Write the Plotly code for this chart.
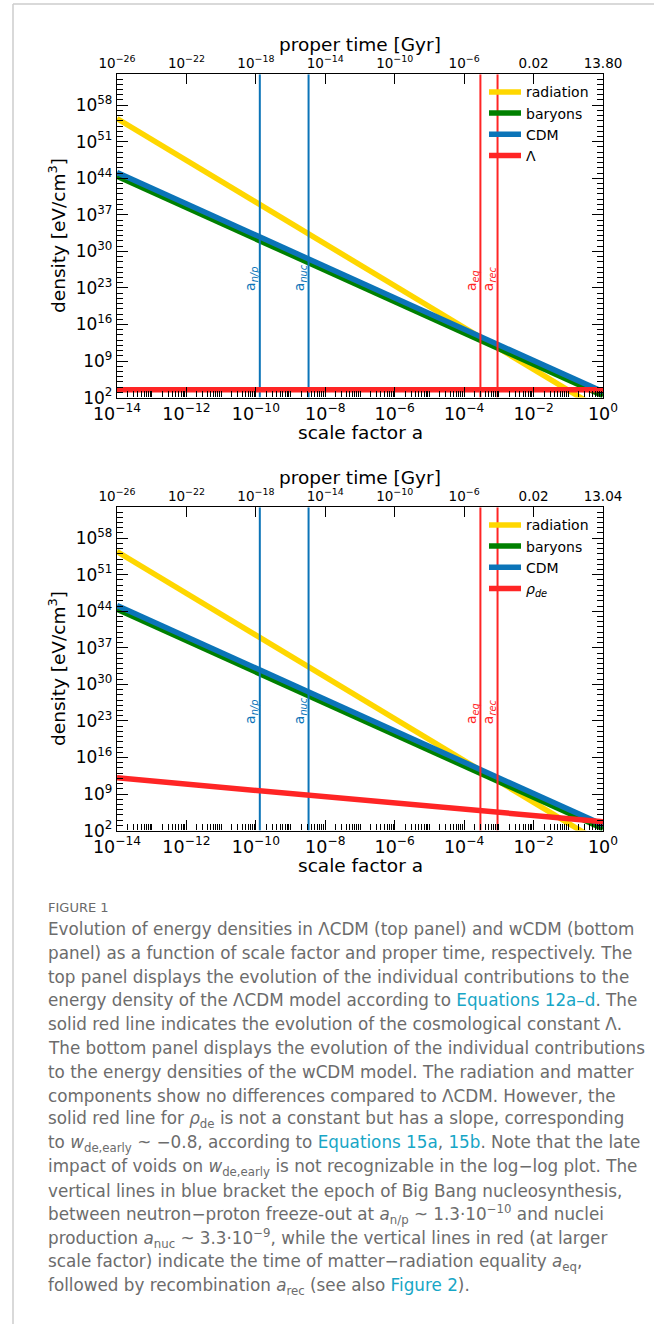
import math
import plotly.graph_objects as go

W, H = 654, 1324

# ---------------------------------------------------------------- data
scale_factor = [1e-14, 1e-12, 1e-10, 1e-8, 1e-6, 1e-4, 1e-2, 1.0]

rho_radiation = [2.6e55, 2.6e47, 2.6e39, 2.6e31, 2.6e23, 2.6e15, 2.6e7, 0.26]
rho_baryons = [2.35e44, 2.35e38, 2.35e32, 2.35e26, 2.35e20, 2.35e14, 2.35e8, 235.0]
rho_cdm = [1.25e45, 1.25e39, 1.25e33, 1.25e27, 1.25e21, 1.25e15, 1.25e9, 1250.0]
rho_lambda = [3300.0, 3300.0, 3300.0, 3300.0, 3300.0, 3300.0, 3300.0, 3300.0]
rho_de = [1.26e12, 7.9e10, 5.0e9, 3.2e8, 2.0e7, 1.26e6, 7.9e4, 5000.0]

epoch_names = ["n/p", "nuc", "eq", "rec"]
epoch_a = [1.3e-10, 3.3e-9, 2.94e-4, 9.17e-4]
epoch_kind = ["bbn", "bbn", "cmb", "cmb"]

a_tick_vals = [1e-14, 1e-12, 1e-10, 1e-8, 1e-6, 1e-4, 1e-2, 1.0]
a_tick_text = ["10<sup>−14</sup>", "10<sup>−12</sup>", "10<sup>−10</sup>", "10<sup>−8</sup>",
               "10<sup>−6</sup>", "10<sup>−4</sup>", "10<sup>−2</sup>", "10<sup>0</sup>"]
time_text_lcdm = ["10<sup>−26</sup>", "10<sup>−22</sup>", "10<sup>−18</sup>", "10<sup>−14</sup>",
                  "10<sup>−10</sup>", "10<sup>−6</sup>", "0.02", "13.80"]
time_text_wcdm = ["10<sup>−26</sup>", "10<sup>−22</sup>", "10<sup>−18</sup>", "10<sup>−14</sup>",
                  "10<sup>−10</sup>", "10<sup>−6</sup>", "0.02", "13.04"]
rho_tick_exp = [2, 9, 16, 23, 30, 37, 44, 51, 58]

# ---------------------------------------------------------------- style
COL_RAD = "#ffd700"
COL_BAR = "#008000"
COL_CDM = "#0b74b8"
COL_RED = "#ff2525"
FONT = "DejaVu Sans"
CAP_FONT = "DejaVu Sans"
CAP_COL = "#6c6c6c"
LINK_COL = "#17a6c6"

X_LOG_RANGE = [-14, 0]
Y_LOG_RANGE = [2, 63.9]
LABEL_Y = 1e22


def px_x(x):
    return x / W


def px_y(y):
    return 1 - y / H


PLOT_L, PLOT_R = 117, 603
PANELS = [(74.3, 397.6), (507.3, 830.6)]

minor_a = []
for e in range(-14, 0):
    for m in range(1, 10):
        if m == 1 and e % 2 == 0:
            continue
        minor_a.append(m * 10.0 ** e)
minor_rho = [10.0 ** e for e in range(3, 64) if e not in rho_tick_exp]

fig = go.Figure()

panel_specs = [
    dict(xa="x", xt="x2", ya="y", legend="legend", dark=rho_lambda,
         dark_name="Λ", time_text=time_text_lcdm),
    dict(xa="x3", xt="x4", ya="y2", legend="legend2", dark=rho_de,
         dark_name="<i>ρ</i><sub><i>de</i></sub>", time_text=time_text_wcdm),
]

y_full = [10 ** Y_LOG_RANGE[0], 10 ** Y_LOG_RANGE[1]]

for spec in panel_specs:
    common = dict(xaxis=spec["xa"], yaxis=spec["ya"], legend=spec["legend"], mode="lines",
                  hoverinfo="skip")
    fig.add_trace(go.Scatter(x=scale_factor, y=rho_radiation, name="radiation",
                             line=dict(color=COL_RAD, width=5.5), **common))
    fig.add_trace(go.Scatter(x=scale_factor, y=rho_baryons, name="baryons",
                             line=dict(color=COL_BAR, width=5.5), **common))
    fig.add_trace(go.Scatter(x=scale_factor, y=rho_cdm, name="CDM",
                             line=dict(color=COL_CDM, width=5.5), **common))
    for name, a, kind in zip(epoch_names, epoch_a, epoch_kind):
        fig.add_trace(go.Scatter(x=[a, a], y=y_full, showlegend=False,
                                 line=dict(color=COL_CDM if kind == "bbn" else COL_RED, width=2),
                                 **common))
    fig.add_trace(go.Scatter(x=scale_factor, y=spec["dark"], name=spec["dark_name"],
                             line=dict(color=COL_RED, width=5.5), **common))
    # trace that carries the proper-time axis
    fig.add_trace(go.Scatter(x=[], y=[], xaxis=spec["xt"], yaxis=spec["ya"], showlegend=False,
                             hoverinfo="skip"))

axis_line = dict(showline=True, linecolor="black", linewidth=1.3, showgrid=False,
                 zeroline=False, ticks="inside", tickcolor="black", tickwidth=1.1,
                 automargin=False)

layout = dict(
    width=W, height=H, margin=dict(l=0, r=0, t=0, b=0, pad=0, autoexpand=False),
    paper_bgcolor="white", plot_bgcolor="white",
    font=dict(family=FONT, color="black"),
    showlegend=True,
)

for spec, (top, bot) in zip(panel_specs, PANELS):
    xa_key = "xaxis" if spec["xa"] == "x" else "xaxis" + spec["xa"][1:]
    xt_key = "xaxis" + spec["xt"][1:]
    ya_key = "yaxis" if spec["ya"] == "y" else "yaxis" + spec["ya"][1:]
    dom_x = [px_x(PLOT_L), px_x(PLOT_R)]
    dom_y = [px_y(bot), px_y(top)]
    layout[xa_key] = dict(
        type="log", range=X_LOG_RANGE, domain=dom_x, anchor=spec["ya"],
        tickmode="array", tickvals=a_tick_vals, ticktext=a_tick_text,
        ticklen=10, tickfont=dict(size=17.5, family=FONT),
        minor=dict(tickmode="array", tickvals=minor_a, ticks="inside", ticklen=6,
                   tickcolor="black", tickwidth=0.9, showgrid=False),
        **axis_line)
    layout[xt_key] = dict(
        type="log", range=X_LOG_RANGE, overlaying=spec["xa"], anchor=spec["ya"], side="top",
        tickmode="array", tickvals=a_tick_vals, ticktext=spec["time_text"],
        ticklen=10, tickfont=dict(size=13.5, family=FONT), **axis_line)
    layout[ya_key] = dict(
        type="log", range=Y_LOG_RANGE, domain=dom_y, anchor=spec["xa"], mirror="ticks",
        tickmode="array", tickvals=[10.0 ** e for e in rho_tick_exp],
        ticktext=["10<sup>%d</sup>" % e for e in rho_tick_exp],
        ticklen=11, tickfont=dict(size=17, family=FONT),
        minor=dict(tickmode="array", tickvals=minor_rho, ticks="inside", ticklen=6,
                   tickcolor="black", tickwidth=0.9, showgrid=False),
        **axis_line)
    layout[spec["legend"]] = dict(
        x=px_x(484), y=px_y(top + 2), xanchor="left", yanchor="top",
        bgcolor="rgba(0,0,0,0)", borderwidth=0, itemwidth=32,
        font=dict(size=14, family=FONT, color="black"), tracegroupgap=0)

annotations = []
for spec, (top, bot) in zip(panel_specs, PANELS):
    mid_x = px_x((PLOT_L + PLOT_R) / 2)
    annotations.append(dict(text="proper time [Gyr]", xref="paper", yref="paper",
                            x=mid_x, y=px_y(top - 30), showarrow=False,
                            font=dict(size=18.5, family=FONT), xanchor="center",
                            yanchor="middle"))
    annotations.append(dict(text="scale factor a", xref="paper", yref="paper",
                            x=mid_x, y=px_y(bot + 35), showarrow=False,
                            font=dict(size=18.5, family=FONT), xanchor="center",
                            yanchor="middle"))
    annotations.append(dict(text="density [eV/cm<sup>3</sup>]", xref="paper", yref="paper",
                            x=px_x(57), y=px_y((top + bot) / 2), showarrow=False,
                            textangle=-90, font=dict(size=18.5, family=FONT),
                            xanchor="center", yanchor="middle"))
    for name, a, kind in zip(epoch_names, epoch_a, epoch_kind):
        annotations.append(dict(text="a<sub><i>%s</i></sub>" % name,
                                xref=spec["xa"], yref=spec["ya"],
                                x=math.log10(a), y=math.log10(LABEL_Y),
                                showarrow=False, textangle=-90,
                                xanchor="right", yanchor="bottom", xshift=2,
                                font=dict(size=14, family=FONT,
                                          color=COL_CDM if kind == "bbn" else COL_RED)))

# caption
link = '<span style="color:%s">%s</span>'
caption_lines = [
    "Evolution of energy densities in ΛCDM (top panel) and wCDM (bottom",
    "panel) as a function of scale factor and proper time, respectively. The",
    "top panel displays the evolution of the individual contributions to the",
    "energy density of the ΛCDM model according to " + link % (LINK_COL, "Equations 12a–d") + ". The",
    "solid red line indicates the evolution of the cosmological constant Λ.",
    "The bottom panel displays the evolution of the individual contributions",
    "to the energy densities of the wCDM model. The radiation and matter",
    "components show no differences compared to ΛCDM. However, the",
    "solid red line for <i>ρ</i><sub>de</sub> is not a constant but has a slope, corresponding",
    "to <i>w</i><sub>de,early</sub> ~ −0.8, according to " + link % (LINK_COL, "Equations 15a")
    + ", " + link % (LINK_COL, "15b") + ". Note that the late",
    "impact of voids on <i>w</i><sub>de,early</sub> is not recognizable in the log−log plot. The",
    "vertical lines in blue bracket the epoch of Big Bang nucleosynthesis,",
    "between neutron−proton freeze-out at <i>a</i><sub>n/p</sub> ~ 1.3·10<sup>−10</sup> and nuclei",
    "production <i>a</i><sub>nuc</sub> ~ 3.3·10<sup>−9</sup>, while the vertical lines in red (at larger",
    "scale factor) indicate the time of matter−radiation equality <i>a</i><sub>eq</sub>,",
    "followed by recombination <i>a</i><sub>rec</sub> (see also " + link % (LINK_COL, "Figure 2") + ").",
]
annotations.append(dict(text="FIGURE 1", xref="paper", yref="paper", x=px_x(46), y=px_y(908),
                        showarrow=False, xanchor="left", yanchor="middle",
                        font=dict(size=13, family=CAP_FONT, color="#6a6a6a")))
for k, line in enumerate(caption_lines):
    annotations.append(dict(text=line, xref="paper", yref="paper", x=px_x(46),
                            y=px_y(929 + k * 23.8), showarrow=False, xanchor="left",
                            yanchor="middle", align="left",
                            font=dict(size=16.8, family=CAP_FONT, color=CAP_COL)))

layout["annotations"] = annotations
layout["shapes"] = [
    dict(type="line", xref="paper", yref="paper", x0=px_x(13), x1=px_x(13), y0=0, y1=px_y(4),
         line=dict(color="#cccccc", width=1.5)),
    dict(type="line", xref="paper", yref="paper", x0=px_x(13), x1=1, y0=px_y(4), y1=px_y(4),
         line=dict(color="#cccccc", width=1.5)),
]

fig.update_layout(**layout)
fig.write_html("out.html")
